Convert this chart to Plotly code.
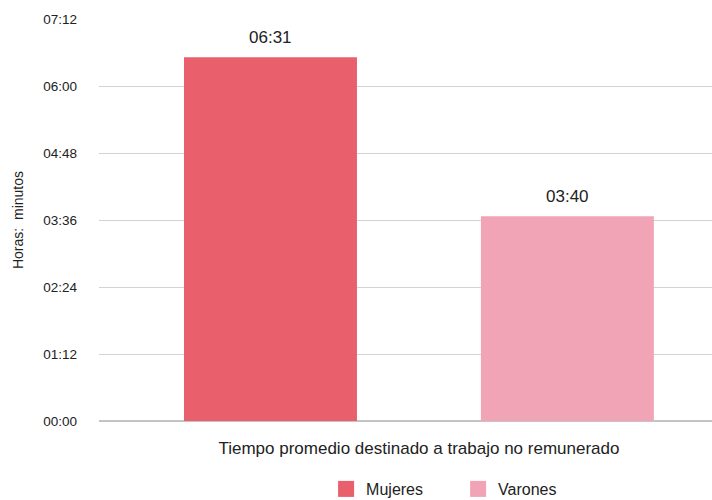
import plotly.graph_objects as go

# Tiempo promedio (en minutos) destinado a trabajo no remunerado
categoria = ["Tiempo promedio destinado a trabajo no remunerado"]
grupos = ["Mujeres", "Varones"]
minutos = [391, 220]
colores = ["#E95F6C", "#F1A4B5"]

tick_vals = [0, 72, 144, 216, 288, 360, 432]

FONT = "Liberation Sans, Arial, sans-serif"
TXT = "#222222"


def hhmm(m):
    return f"{int(m) // 60:02d}:{int(m) % 60:02d}"


BARGAP = 0.072
fig = go.Figure()
for g, v, c in zip(grupos, minutos, colores):
    fig.add_trace(go.Bar(
        x=categoria, y=[v], name=g, marker=dict(color=c, line=dict(width=0)),
        hoverinfo="skip", showlegend=False,
    ))

# Entradas de leyenda con muestras cuadradas
for g, c in zip(grupos, colores):
    fig.add_trace(go.Scatter(
        x=[None], y=[None], mode="markers", name=g,
        marker=dict(symbol="square", size=16, color=c),
        showlegend=True,
    ))

# Etiquetas de valor sobre cada barra
half = (1 - BARGAP) / 4
for i, v in enumerate(minutos):
    fig.add_annotation(
        x=(-half if i == 0 else half), y=v, xref="x", yref="y",
        text=hhmm(v), showarrow=False, yanchor="bottom", yshift=8,
        font=dict(family=FONT, size=17, color=TXT),
    )

fig.update_layout(
    width=712, height=500,
    margin=dict(l=99, r=0, t=19, b=79),
    paper_bgcolor="white", plot_bgcolor="white",
    barmode="group", bargap=BARGAP, bargroupgap=0.4175,
    font=dict(family=FONT, color=TXT),
    showlegend=True,
    legend=dict(
        orientation="h", xref="container", yref="container",
        x=0.458, xanchor="left", y=0.022, yanchor="middle",
        font=dict(size=16, color=TXT), itemwidth=30,
        entrywidth=87, entrywidthmode="pixels",
        traceorder="normal",
    ),
)
fig.update_xaxes(
    type="category", range=[-0.5, 0.458], showgrid=False, showline=False,
    ticks="", tickfont=dict(size=17, color=TXT), ticklabelstandoff=15,
)
fig.update_yaxes(
    range=[0, 432], tickvals=tick_vals, ticktext=[hhmm(t) for t in tick_vals],
    showgrid=True, gridcolor="#d3d3d3", gridwidth=1,
    zeroline=True, zerolinecolor="#c4c4c4", zerolinewidth=1.5,
    tickfont=dict(size=13.5, color=TXT), ticks="", ticklabelstandoff=21,
    title=dict(text="Horas:\u00a0 minutos", font=dict(size=14, color=TXT), standoff=16),
)

fig.write_html("out.html")
